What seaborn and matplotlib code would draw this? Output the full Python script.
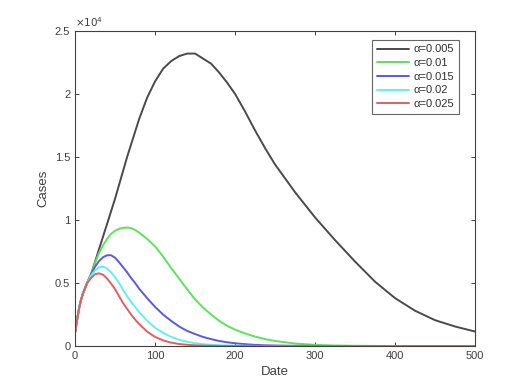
import numpy as np
import pandas as pd
import matplotlib
matplotlib.use("Agg")
import matplotlib.pyplot as plt
import seaborn as sns
from matplotlib.ticker import FuncFormatter

# days
days = [0, 2.5, 5, 7.5, 10, 15, 20, 25, 30, 35, 40, 45, 50, 55, 60, 65, 70,
        75, 80, 90, 100, 110, 120, 130, 140, 150, 160, 170, 180, 190, 200,
        212.5, 225, 237.5, 250, 275, 300, 325, 350, 375, 400, 425, 450, 475,
        500]

# cases (x10^4) for each alpha
a005 = [0.11, 0.21, 0.30, 0.37, 0.42, 0.50, 0.57, 0.67, 0.77, 0.87, 0.97,
        1.07, 1.17, 1.28, 1.39, 1.50, 1.60, 1.70, 1.80, 1.97, 2.10, 2.20,
        2.26, 2.30, 2.32, 2.32, 2.28, 2.24, 2.17, 2.09, 2.00, 1.86, 1.71,
        1.57, 1.44, 1.22, 1.02, 0.84, 0.67, 0.51, 0.38, 0.28, 0.205, 0.155,
        0.115]
a01 = [0.11, 0.21, 0.30, 0.37, 0.42, 0.50, 0.57, 0.66, 0.74, 0.80, 0.85,
       0.89, 0.915, 0.93, 0.938, 0.94, 0.935, 0.92, 0.90, 0.85, 0.79, 0.71,
       0.62, 0.535, 0.45, 0.37, 0.305, 0.25, 0.20, 0.16, 0.13, 0.10, 0.075,
       0.055, 0.04, 0.02, 0.009, 0.004, 0.002, 0.001, 0, 0, 0, 0, 0]
a015 = [0.11, 0.21, 0.30, 0.37, 0.42, 0.50, 0.57, 0.63, 0.675, 0.705, 0.72,
        0.72, 0.70, 0.665, 0.625, 0.585, 0.54, 0.50, 0.455, 0.38, 0.31, 0.25,
        0.20, 0.155, 0.12, 0.095, 0.072, 0.055, 0.04, 0.03, 0.022, 0.015,
        0.009, 0.006, 0.004, 0.002, 0.001, 0, 0, 0, 0, 0, 0, 0, 0]
a02 = [0.11, 0.21, 0.30, 0.37, 0.42, 0.50, 0.56, 0.60, 0.625, 0.63, 0.615,
       0.585, 0.545, 0.50, 0.445, 0.395, 0.35, 0.31, 0.27, 0.20, 0.145, 0.105,
       0.073, 0.05, 0.034, 0.022, 0.015, 0.01, 0.006, 0.004, 0.003, 0.002,
       0.001, 0, 0, 0, 0, 0, 0, 0, 0, 0, 0, 0, 0]
a025 = [0.11, 0.21, 0.30, 0.37, 0.42, 0.50, 0.54, 0.57, 0.577, 0.565, 0.535,
        0.495, 0.45, 0.395, 0.34, 0.295, 0.25, 0.21, 0.175, 0.115, 0.072,
        0.045, 0.027, 0.016, 0.01, 0.006, 0.003, 0.002, 0.001, 0, 0, 0, 0, 0,
        0, 0, 0, 0, 0, 0, 0, 0, 0, 0, 0]

labels = ["α=0.005", "α=0.01", "α=0.015", "α=0.02", "α=0.025"]
colors = ["#4a4a4a", "#5fe05f", "#5a5ae0", "#66eeee", "#e06060"]

df = pd.concat([
    pd.DataFrame({"Date": days, "Cases": np.array(vals) * 1e4, "alpha": lab})
    for lab, vals in zip(labels, [a005, a01, a015, a02, a025])
])

sns.set_style("white")
plt.rcParams["font.family"] = ["Liberation Sans", "DejaVu Sans"]

fig = plt.figure(figsize=(5.29, 3.91), dpi=100)
ax = fig.add_axes([0.142, 0.115, 0.756, 0.806])
sns.lineplot(data=df, x="Date", y="Cases", hue="alpha", palette=colors,
             linewidth=1.4, ax=ax)

ax.set_xlim(0, 500)
ax.set_ylim(0, 25000)
ax.set_xticks([0, 100, 200, 300, 400, 500])
ax.set_yticks([0, 5000, 10000, 15000, 20000, 25000])
ax.yaxis.set_major_formatter(FuncFormatter(lambda v, p: "%g" % (v / 1e4)))
ax.tick_params(direction="in", length=3, width=0.7, labelsize=8,
               colors="#404040", top=True, right=True, bottom=True, left=True)
for s in ax.spines.values():
    s.set_color("#404040")
    s.set_linewidth(0.8)
ax.set_xlabel("Date", fontsize=9.5, color="#404040")
ax.set_ylabel("Cases", fontsize=9.5, color="#404040")
ax.text(0.0, 1.005, r"$\times10^4$", transform=ax.transAxes, fontsize=7.5,
        color="#404040", va="bottom", ha="left")

leg = ax.legend(loc="upper right", bbox_to_anchor=(0.96, 0.971),
                borderaxespad=0, fontsize=8, frameon=True, fancybox=False,
                handlelength=2.9, borderpad=0.4, labelspacing=0.33,
                handletextpad=0.45)
leg.get_frame().set_edgecolor("#404040")
leg.get_frame().set_linewidth(0.8)
for t in leg.get_texts():
    t.set_color("#303030")

fig.savefig("out.png", dpi=100, facecolor="white")
